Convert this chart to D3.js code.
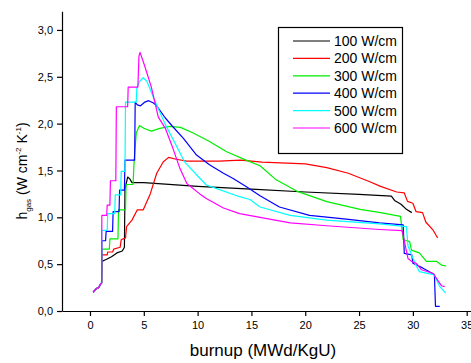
<!DOCTYPE html>
<html>
<head>
<meta charset="utf-8">
<script src="https://cdn.jsdelivr.net/npm/d3@7"></script>
<style>
  body { margin: 0; background: #fff; }
  svg { display: block; font-family: Arial, "Liberation Sans", sans-serif; }
  .axis path, .axis line { stroke: #000; stroke-width: 1.2; }
  .axis text { font-size: 11px; fill: #000; }
</style>
</head>
<body>
<svg id="chart" width="471" height="363"></svg>
<script>
// series values, [burnup, h_gas]
const start = [[0.3, 0.2], [0.6, 0.24], [0.8, 0.25], [1.0, 0.29], [1.08, 0.3]];

const w100 = start.concat([[1.1, 0.53], [1.5, 0.55], [2.0, 0.58], [2.5, 0.62], [3.0, 0.64],
  [3.2, 0.68], [3.25, 1.3], [3.5, 1.43], [3.7, 1.41], [3.9, 1.37], [5, 1.37], [10, 1.33],
  [15, 1.30], [20, 1.27], [25, 1.245], [28, 1.227], [28.3, 1.18], [28.9, 1.14],
  [29.4, 1.085], [29.9, 1.05]]);

const w200 = start.concat([[1.1, 0.6], [1.6, 0.6], [1.65, 0.63], [2.1, 0.63], [2.2, 0.66],
  [2.8, 0.68], [2.9, 0.76], [3.3, 0.78], [3.4, 0.9], [3.9, 0.97], [4.4, 1.08], [4.95, 1.08],
  [5.6, 1.25], [6.2, 1.47], [6.8, 1.59], [7.3, 1.64], [8.0, 1.62], [9, 1.6], [12, 1.6],
  [14, 1.61], [16, 1.59], [20, 1.57], [22, 1.53], [24, 1.47], [26, 1.38], [27, 1.33],
  [28.5, 1.27], [29.2, 1.26], [29.5, 1.17], [30.0, 1.15], [30.3, 1.06], [30.9, 1.05],
  [31.2, 0.95], [31.9, 0.86], [32.3, 0.78]]);

const w300 = start.concat([[1.1, 0.66], [1.8, 0.66], [1.85, 0.77], [2.6, 0.77], [2.65, 1.08],
  [3.3, 1.08], [3.35, 1.35], [4.0, 1.35], [4.1, 1.6], [4.3, 1.9], [4.6, 1.98], [5.0, 1.95],
  [5.7, 1.92], [6.5, 1.95], [7.4, 1.97], [8.4, 1.96], [9.6, 1.90], [11.1, 1.81],
  [12.7, 1.70], [14.5, 1.61], [15.8, 1.55], [17.3, 1.40], [19.2, 1.28], [22.0, 1.167],
  [25.1, 1.085], [27.0, 1.05], [28.85, 1.01], [29.1, 0.76], [29.7, 0.74], [29.87, 0.65],
  [30.6, 0.62], [31.25, 0.53], [32.2, 0.53], [32.65, 0.49], [33.1, 0.48]]);

const w400 = start.concat([[1.1, 0.75], [1.45, 0.75], [1.5, 0.85], [2.1, 0.85], [2.15, 1.06],
  [2.7, 1.06], [2.75, 1.29], [3.2, 1.29], [3.25, 1.61], [4.15, 1.61], [4.2, 2.23],
  [4.4, 2.2], [4.7, 2.19], [5.1, 2.23], [5.45, 2.245], [5.9, 2.22], [6.2, 2.19],
  [7.0, 2.06], [7.6, 1.98], [8.7, 1.84], [9.9, 1.665], [11.1, 1.56], [12.4, 1.47],
  [13.3, 1.415], [14.5, 1.33], [15.8, 1.23], [17.6, 1.11], [20.4, 1.02], [23.8, 0.98],
  [26.9, 0.94], [29.1, 0.92], [29.2, 0.615], [29.9, 0.6], [30.0, 0.51], [30.9, 0.46],
  [32.0, 0.39], [32.1, 0.05], [32.5, 0.05]]);

const w500 = start.concat([[1.1, 0.86], [1.6, 0.86], [1.65, 1.04], [2.3, 1.04], [2.35, 1.24],
  [2.85, 1.24], [2.9, 1.49], [3.25, 1.49], [3.3, 2.23], [4.3, 2.23], [4.35, 2.38],
  [4.6, 2.45], [4.95, 2.49], [5.3, 2.45], [6.0, 2.25], [6.96, 2.0], [8.8, 1.59],
  [10.8, 1.345], [11.45, 1.32], [13.9, 1.22], [14.86, 1.19], [15.8, 1.11], [18.6, 1.02],
  [22, 0.97], [26.9, 0.93], [29.4, 0.90], [29.55, 0.69], [29.7, 0.65], [30.2, 0.51],
  [30.6, 0.42], [32.0, 0.385], [32.5, 0.26], [33.05, 0.19]]);

const w600 = start.concat([[1.1, 1.02], [1.55, 1.02], [1.6, 1.13], [1.85, 1.13], [1.9, 1.39],
  [2.4, 1.39], [2.45, 2.18], [3.5, 2.18], [3.55, 2.39], [4.45, 2.39], [4.55, 2.72],
  [4.65, 2.76], [5.1, 2.61], [5.7, 2.39], [6.35, 2.07], [7.0, 1.95], [7.6, 1.77],
  [8.36, 1.52], [9.0, 1.36], [10.2, 1.25], [10.8, 1.2], [12.4, 1.1], [13.9, 1.04],
  [15.8, 1.0], [18.6, 0.94], [22, 0.91], [26.9, 0.87], [29.0, 0.857], [29.55, 0.56],
  [29.87, 0.53], [30.3, 0.51], [30.8, 0.44], [31.9, 0.40], [32.3, 0.33], [32.65, 0.27],
  [32.96, 0.26]]);

const seriesNames = ["100 W/cm", "200 W/cm", "300 W/cm", "400 W/cm", "500 W/cm", "600 W/cm"];
const seriesValues = [w100, w200, w300, w400, w500, w600];
const seriesColors = ["#000000", "#ff0000", "#00ee00", "#0000ff", "#00ffff", "#ff00ff"];

const xTicks = [0, 5, 10, 15, 20, 25, 30, 35];
const yTicks = [0, 0.5, 1.0, 1.5, 2.0, 2.5, 3.0];

const svg = d3.select("#chart");

const x = d3.scaleLinear().domain([-2.6, 35.4]).range([62, 471]);
const y = d3.scaleLinear().domain([0, 3.2]).range([311, 11.2]);

// axes
svg.append("g")
    .attr("class", "x axis")
    .attr("transform", "translate(0,311)")
    .call(d3.axisBottom(x).tickValues(xTicks).tickSize(5).tickSizeOuter(0).tickPadding(5));

svg.append("g")
    .attr("class", "y axis")
    .attr("transform", "translate(62,0)")
    .call(d3.axisLeft(y).tickValues(yTicks).tickSize(5).tickSizeOuter(0).tickPadding(4)
        .tickFormat(d => d.toFixed(1).replace(".", ",")));

// curves
const line = d3.line().x(d => x(d[0])).y(d => y(d[1]));

seriesValues.forEach((vals, i) => {
    svg.append("path")
        .datum(vals)
        .attr("fill", "none")
        .attr("stroke", seriesColors[i])
        .attr("stroke-width", 1.2)
        .attr("stroke-linejoin", "round")
        .attr("d", line);
});

// axis titles
svg.append("text")
    .attr("x", 263)
    .attr("y", 356)
    .attr("text-anchor", "middle")
    .style("font-size", "17px")
    .text("burnup (MWd/KgU)");

const ylab = svg.append("text")
    .attr("transform", "translate(27,171) rotate(-90)")
    .attr("text-anchor", "middle")
    .style("font-size", "14px");
ylab.append("tspan").text("h");
ylab.append("tspan").attr("dy", 4).style("font-size", "8px").text("gas");
ylab.append("tspan").attr("dy", -4).text(" (W cm");
ylab.append("tspan").attr("dy", -6).style("font-size", "8px").text("-2");
ylab.append("tspan").attr("dy", 6).text(" K");
ylab.append("tspan").attr("dy", -6).style("font-size", "8px").text("-1");
ylab.append("tspan").attr("dy", 6).text(")");

// legend
const legend = svg.append("g");
legend.append("rect")
    .attr("x", 278.5).attr("y", 27.5)
    .attr("width", 124).attr("height", 126)
    .attr("fill", "#fff").attr("stroke", "#000").attr("stroke-width", 1.2);

seriesNames.forEach((name, i) => {
    const cy = 41 + i * 17.4;
    legend.append("line")
        .attr("x1", 293).attr("x2", 330)
        .attr("y1", cy).attr("y2", cy)
        .attr("stroke", seriesColors[i]).attr("stroke-width", 1.2);
    legend.append("text")
        .attr("x", 334).attr("y", cy + 5)
        .style("font-size", "14px")
        .text(name);
});
</script>
</body>
</html>
